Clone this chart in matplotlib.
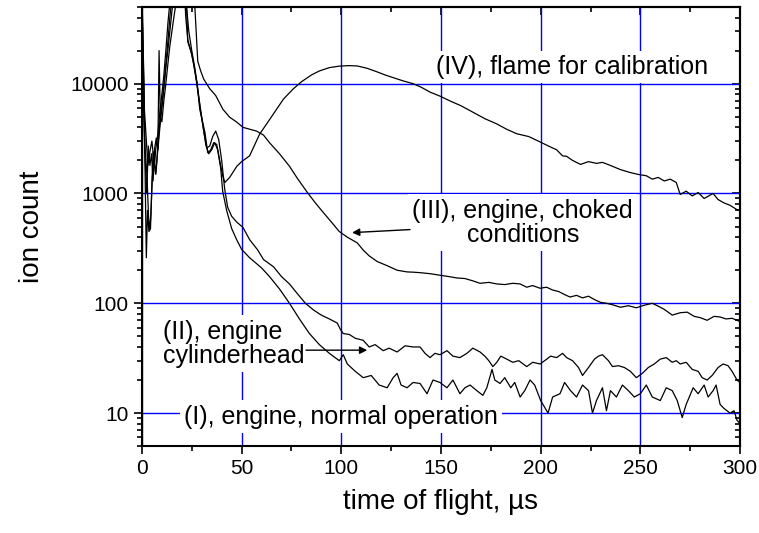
import numpy as np
import matplotlib.pyplot as plt
from matplotlib.ticker import LogLocator, MultipleLocator, FixedLocator, NullFormatter

plt.rcParams['font.family'] = ['Liberation Sans', 'DejaVu Sans']

# (I) engine, normal operation
t1 = [0, 0.5, 1, 1.5, 2.2, 2.8, 3.5, 4.3, 5, 5.6, 6.3, 7, 8, 9, 10, 11, 12, 13, 14, 15, 17, 19,
      21, 22, 23, 24.5, 26, 27.5, 29, 30.5, 32, 33.5, 35, 36.5, 38, 39.5, 40.5, 42.5, 45, 47.5, 50,
      54, 60, 64, 69, 74, 79, 84, 89, 94, 99, 101, 103, 107, 111, 115, 119, 123, 126, 128, 130,
      133, 136, 139.5, 143, 146, 149.5, 153, 156, 159.5, 162, 164.6, 168, 171, 173, 175.6, 177,
      179.6, 182, 185, 187, 189.7, 192, 194.7, 197, 200, 203.7, 206, 209.7, 212, 215, 218, 221,
      224, 226, 228, 231, 233, 235, 238, 241, 244, 247, 250, 253, 256, 260, 263, 266, 268.5, 271,
      273, 276.5, 279, 282, 284, 286.5, 288, 290, 292, 295, 297, 298.5, 300]
y1 = [60000, 30000, 9000, 2000, 260, 700, 450, 480, 1200, 2400, 1800, 2600, 3500, 5500, 8000,
      12000, 20000, 35000, 55000, 80000, 150000, 200000, 90000, 40000, 25000, 20000, 15000, 10000,
      6500, 4300, 2800, 2300, 2500, 2900, 2500, 1700, 1050, 700, 480, 380, 310,
      260, 210, 175, 135, 100, 72, 53, 42, 35, 30, 34, 28, 24, 21, 22, 18, 17, 21, 23, 18,
      17, 19, 18.6, 15, 20, 19, 17, 20, 15, 17, 18, 16, 14.5, 17, 25, 20,
      18.6, 21, 17, 19, 14, 16, 20, 18, 13, 10, 14, 15, 19, 16, 14, 18,
      16, 10, 13, 17, 10.5, 16, 14, 18, 16, 14, 15, 18, 14, 13, 17, 16, 13, 9.1,
      12, 17, 15, 18, 14, 16, 18, 12, 11, 10, 10.5, 8.6, 8]

# (II) engine cylinderhead
t2 = [0, 0.7, 1.5, 2.5, 3.3, 4, 4.5, 5.2, 6, 6.8, 7.5, 8.2, 9, 10, 11, 12, 13, 14, 15, 16, 18,
      20, 22, 23.5, 25, 26.5, 28, 29.5, 31, 32.5, 34, 35.5, 37, 38.5, 40, 41.5, 43, 45, 47.5,
      50.7, 54, 58, 61, 66, 70, 74, 77.7, 82, 86, 90, 94, 98, 99.5, 101, 104, 107, 111, 114, 117,
      121, 124, 128, 132, 136, 139.5, 142, 144.5, 147, 149.5, 153, 156, 159.5, 163, 166, 169.6,
      172, 174, 176, 178, 180, 183, 186, 189, 193, 196, 199.7, 202, 205, 208, 211, 213, 216, 219,
      221, 224, 227, 229, 231, 234, 236, 239, 242, 245, 248, 251, 254, 257, 260, 263, 266, 268,
      270, 273, 276, 279, 281, 283.5, 286, 289, 291.5, 294, 296, 298.5, 300]
y2 = [35000, 14000, 2700, 1500, 620, 470, 650, 1400, 2200, 1500, 2000, 3000, 4500, 6500, 9500,
      15000, 24000, 40000, 60000, 90000, 150000, 120000, 60000, 30000, 20000, 14000, 9000, 5500,
      3700, 2600, 2700, 3300, 3700, 3100, 2000, 1100, 750, 620, 550,
      490, 380, 307, 250, 215, 175, 150, 124, 100, 87, 78, 72, 66, 58, 53, 52, 48, 46, 40, 42,
      37, 39, 36, 41, 40, 40, 35, 32, 35, 34, 37, 33, 32, 35, 39, 36,
      33, 30, 26.5, 29, 33, 31, 29, 30, 26.5, 29, 28, 30, 33, 32, 35, 32, 30, 26,
      22, 26, 31, 33, 34, 30, 26.5, 27, 26, 24, 21, 23, 26, 28, 31, 32, 29, 30,
      28, 29, 25, 24, 21, 20, 22, 26, 28, 27, 24, 20, 19]

# (III) engine, choked conditions
t3 = [0, 0.5, 1.2, 2, 3, 4, 5, 6, 7, 8, 8.6, 9.2, 10, 11, 12, 13, 14, 16, 18, 20, 22, 24, 25.5,
      26.6, 28, 29.5, 31, 34, 37, 40.6, 44, 47.6, 50.7, 54, 57.5, 61, 64, 69, 74, 78, 83, 87, 91,
      95, 99, 103, 108, 111, 114, 118, 123, 128, 133, 136, 139.5, 144.5, 149.5, 154, 158, 162,
      166, 169.6, 174, 178, 182, 186, 189.7, 193, 196, 199.7, 203, 206, 209, 212, 214.7, 218,
      221, 224, 227, 230, 233, 236, 240, 244, 248, 252, 256, 259, 262, 266, 270, 273.5, 277,
      280, 283.5, 287, 290, 293, 296, 298.5, 300]
y3 = [50000, 25000, 6000, 3500, 1800, 2400, 3000, 2000, 1500, 2600, 20000, 5000, 4500, 7000,
      10000, 15000, 22000, 40000, 70000, 120000, 150000, 90000, 60000,
      48000, 16000, 13000, 11000, 9000, 7800, 5850, 4950, 4460, 4000, 3850, 3700, 3400, 2900,
      2300, 1770, 1370, 1020, 820, 670, 550, 450, 400, 355, 305, 270, 240, 220, 200, 193, 192,
      190, 186, 180, 175, 170, 168, 160, 152, 155, 150, 148, 152, 150, 140, 145, 137, 140, 132,
      128, 120, 114, 118, 112, 116, 108, 102, 100, 97, 92, 95, 91, 96, 100, 94, 88, 78, 82, 83,
      76, 74, 70, 76, 75, 72, 73, 70, 68]

# (IV) flame for calibration
t4 = [0, 0.8, 1.6, 2.4, 3.2, 4, 4.8, 5.6, 6.4, 7.2, 8, 9, 10, 11, 12, 13, 14, 15, 16, 17, 18,
      20, 22, 23, 25, 27.6, 29, 31.6, 33, 34.5, 36, 37.5, 39, 40.5, 41.6, 44, 47.6, 50, 54, 59,
      65, 71, 76, 80, 85, 89, 94, 99, 104, 108, 113, 118, 122, 127, 131, 136, 140, 144.5, 149.5,
      155, 160, 166, 172, 178, 183, 188, 194, 199, 204, 208, 211, 213, 216, 220, 224, 228, 231,
      235, 240, 245, 249, 253, 256, 259, 262, 265, 268, 270, 273, 276, 279, 282, 286.5, 289, 292,
      295, 298.5, 300]
y4 = [20000, 6000, 2000, 1000, 2700, 1800, 2300, 1300, 2600, 3200, 2500, 4000, 6000, 9000,
      14000, 20000, 30000, 45000, 65000, 100000, 150000, 150000, 80000, 24000, 18700, 10300,
      5850, 3600, 2350, 2500, 2900, 2800, 2000, 1450, 1260, 1400, 1770, 1950, 2200, 3460,
      5000, 7240, 9000, 10400, 12000, 13060, 14000, 14450, 14600, 14500, 13800, 12800, 12000,
      11200, 10600, 10000, 9300, 8380, 7700, 6900, 6300, 5500, 4800, 4300, 3840, 3500, 3300,
      2990, 2700, 2500, 2200, 2180, 2000, 1840, 1950, 1880, 1920, 1800, 1650, 1550, 1490, 1450,
      1350, 1400, 1300, 1350, 1260, 980, 1050, 950, 1020, 900, 1000, 880, 820, 780, 711, 700]

fig = plt.figure(figsize=(7.59, 5.33), dpi=100)
ax = fig.add_axes([0.187, 0.163, 0.788, 0.824])

for t, y in [(t1, y1), (t2, y2), (t3, y3), (t4, y4)]:
    ax.plot(t, y, color='black', lw=0.9, zorder=3)

ax.set_yscale('log')
ax.set_xlim(0, 300)
ax.set_ylim(5, 50000)

ax.xaxis.set_major_locator(MultipleLocator(50))
ax.xaxis.set_minor_locator(MultipleLocator(25))
ax.yaxis.set_major_locator(FixedLocator([10, 100, 1000, 10000]))
ax.yaxis.set_minor_locator(LogLocator(base=10, subs=np.arange(2, 10)))
ax.yaxis.set_minor_formatter(NullFormatter())
ax.set_yticklabels(['10', '100', '1000', '10000'])

ax.grid(True, which='major', color='#0000ff', lw=1.0, zorder=1)

for s in ax.spines.values():
    s.set_linewidth(1.5)
# bottom/left ticks point out, top/right ones point in
ax.tick_params(which='both', direction='out', labelsize=15, width=1.2)
ax.tick_params(which='major', length=6)
ax.tick_params(which='minor', length=3.5)

sx = ax.secondary_xaxis('top')
sx.xaxis.set_major_locator(MultipleLocator(50))
sx.xaxis.set_minor_locator(MultipleLocator(25))
sx.tick_params(which='major', direction='in', length=6, width=1.2, labeltop=False)
sx.tick_params(which='minor', direction='in', length=3.5, width=1.2)
sy = ax.secondary_yaxis('right')
sy.yaxis.set_major_locator(FixedLocator([10, 100, 1000, 10000]))
sy.yaxis.set_minor_locator(LogLocator(base=10, subs=np.arange(2, 10)))
sy.yaxis.set_minor_formatter(NullFormatter())
sy.tick_params(which='major', direction='in', length=6, width=1.2, labelright=False)
sy.tick_params(which='minor', direction='in', length=3.5, width=1.2)
for s in list(sx.spines.values()) + list(sy.spines.values()):
    s.set_linewidth(1.5)

ax.set_xlabel('time of flight, µs', fontsize=20, labelpad=8)
ax.set_ylabel('ion count', fontsize=20, labelpad=18)

box = dict(facecolor='white', edgecolor='none', pad=3)
ax.text(216, 14200, '(IV), flame for calibration', fontsize=18, ha='center', va='center',
        bbox=box, zorder=2)
ax.text(191, 543, '(III), engine, choked\nconditions', fontsize=18, ha='center', va='center',
        linespacing=1.0, bbox=box, zorder=2)
ax.text(10.5, 43, '(II), engine\ncylinderhead', fontsize=18, ha='left', va='center',
        linespacing=1.0, bbox=box, zorder=2)
ax.text(100, 9.3, '(I), engine, normal operation', fontsize=18, ha='center', va='center',
        bbox=box, zorder=2)

arrow = dict(arrowstyle='-|>', color='black', lw=1.0, mutation_scale=11, shrinkA=0, shrinkB=0)
ax.annotate('', xy=(113, 37.4), xytext=(82.3, 37.4), arrowprops=arrow, zorder=4)
ax.annotate('', xy=(105.4, 440), xytext=(134.5, 469), arrowprops=arrow, zorder=4)

fig.savefig('out.png', dpi=100)
